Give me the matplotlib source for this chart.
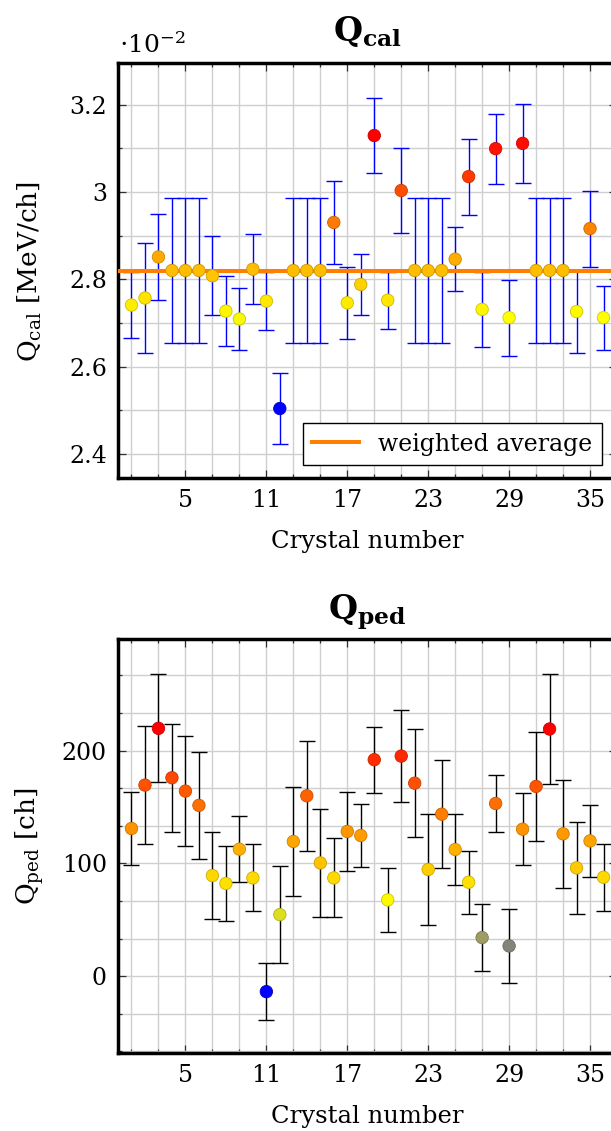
import matplotlib
matplotlib.use('Agg')
import matplotlib.pyplot as plt
import numpy as np
from matplotlib.colors import LinearSegmentedColormap, Normalize
from matplotlib.ticker import FixedLocator, MultipleLocator, FuncFormatter

plt.rcParams['font.family'] = 'DejaVu Serif'
plt.rcParams['mathtext.fontset'] = 'dejavuserif'

crystal = list(range(1, 37))

# Q_cal in units of 1e-2 MeV/ch
q_cal = [2.741, 2.757, 2.851, 2.82, 2.82, 2.82, 2.808, 2.727, 2.709, 2.823,
         2.750, 2.504, 2.82, 2.82, 2.82, 2.930, 2.746, 2.788, 3.129, 2.752,
         3.003, 2.82, 2.82, 2.82, 2.846, 3.035, 2.731, 3.099, 2.712, 3.111,
         2.82, 2.82, 2.82, 2.726, 2.916, 2.712]
q_cal_err = [0.075, 0.125, 0.099, 0.165, 0.165, 0.165, 0.090, 0.080, 0.072, 0.080,
             0.067, 0.081, 0.165, 0.165, 0.165, 0.094, 0.083, 0.070, 0.085, 0.065,
             0.098, 0.165, 0.165, 0.165, 0.074, 0.087, 0.085, 0.080, 0.087, 0.091,
             0.165, 0.165, 0.165, 0.094, 0.087, 0.073]
q_cal_avg = 2.82

# Q_ped in ch
q_ped = [131, 169.5, 219.8, 176, 164.2, 151.5, 89.3, 82.3, 112.7, 87.2,
         -13.6, 54.7, 119.5, 160, 100.5, 87.2, 128.4, 124.8, 192, 67.7,
         195.2, 171.2, 94.7, 143.7, 112.4, 83.4, 34.3, 153.2, 26.9, 130.4,
         168.3, 219.2, 126.3, 96.1, 120, 87.8]
q_ped_err = [32, 52, 48, 48, 48.5, 47.6, 38.3, 33, 29, 29.7,
             25, 42.7, 48, 49, 48, 35, 35, 27.6, 29.3, 28,
             40.8, 48, 49, 48, 31.5, 28, 30, 25.6, 33, 32,
             48, 49, 48, 41, 32, 29.7]

x_major = [5, 11, 17, 23, 29, 35]

cmap = LinearSegmentedColormap.from_list(
    'byor', [(0, 0, 1), (1, 1, 0), (1, 0.5, 0), (1, 0, 0)])

W, H = 611, 1131
fig = plt.figure(figsize=(W / 100, H / 100), dpi=100)


def px(l, t, r, b):
    return [l / W, 1 - b / H, (r - l) / W, (b - t) / H]


ax1 = fig.add_axes(px(118, 63, 617, 478))
ax2 = fig.add_axes(px(118, 639, 617, 1053))


def style(ax, ymajor, yminor, ylim):
    ax.set_xlim(0, 37)
    ax.set_ylim(*ylim)
    ax.xaxis.set_major_locator(FixedLocator(x_major))
    ax.xaxis.set_minor_locator(FixedLocator(range(1, 38, 2)))
    ax.yaxis.set_major_locator(MultipleLocator(ymajor))
    ax.yaxis.set_minor_locator(MultipleLocator(yminor))
    ax.yaxis.set_major_formatter(FuncFormatter(lambda v, p: '{:g}'.format(round(v, 6))))
    ax.grid(which='both', color='#cfcfcf', lw=1.0, zorder=0)
    ax.set_axisbelow(True)
    ax.tick_params(which='both', direction='in', top=True, right=True,
                   labelsize=17, color='#303030', labelcolor='black')
    ax.tick_params(which='major', length=6, width=0.9, pad=8)
    ax.tick_params(which='minor', length=3, width=0.9)
    for s in ax.spines.values():
        s.set_linewidth(2.5)


def draw(ax, vals, errs, ecolor):
    vals = np.array(vals)
    norm = Normalize(vals.min(), vals.max())
    cols = cmap(norm(vals))
    edges = cols * np.array([0.8, 0.8, 0.8, 1])
    ax.errorbar(crystal, vals, yerr=errs, fmt='none', ecolor=ecolor,
                elinewidth=1.0, capsize=5.5, capthick=1.0, zorder=2)
    ax.scatter(crystal, vals, s=80, c=cols, edgecolors=edges,
               linewidths=0.6, zorder=4, clip_on=False)


style(ax1, 0.2, 0.1, (2.345, 3.295))
draw(ax1, q_cal, q_cal_err, '#0000ff')
ax1.axhline(q_cal_avg, color='#ff8000', lw=2.9, zorder=3, label='weighted average')
ax1.legend(loc='lower right', bbox_to_anchor=(0.970, 0.031), borderaxespad=0,
           fancybox=False, edgecolor='black', framealpha=1, fontsize=17,
           handlelength=2.0).get_frame().set_linewidth(1.0)

style(ax2, 100, 100 / 3, (-68, 299))
draw(ax2, q_ped, q_ped_err, 'black')

# texts
fig.text(367.5 / W, 1 - 41 / H, r'$\mathbf{Q_{cal}}$', ha='center', va='baseline', fontsize=24)
fig.text(367.5 / W, 1 - 620 / H, r'$\mathbf{Q_{ped}}$', ha='center', va='baseline', fontsize=24)
fig.text(119 / W, 1 - 53 / H, r'$\cdot 10^{-2}$', va='baseline', fontsize=18)
fig.text(29.5 / W, 1 - 272 / H, r'Q$_{\rm cal}$ [MeV/ch]', rotation=90,
         ha='center', va='center', fontsize=19)
fig.text(29.5 / W, 1 - 846 / H, r'Q$_{\rm ped}$ [ch]', rotation=90,
         ha='center', va='center', fontsize=19)
fig.text(367.5 / W, 1 - 548 / H, 'Crystal number', ha='center', va='baseline', fontsize=17.5)
fig.text(367.5 / W, 1 - 1123 / H, 'Crystal number', ha='center', va='baseline', fontsize=17.5)

fig.savefig('out.png', dpi=100)
